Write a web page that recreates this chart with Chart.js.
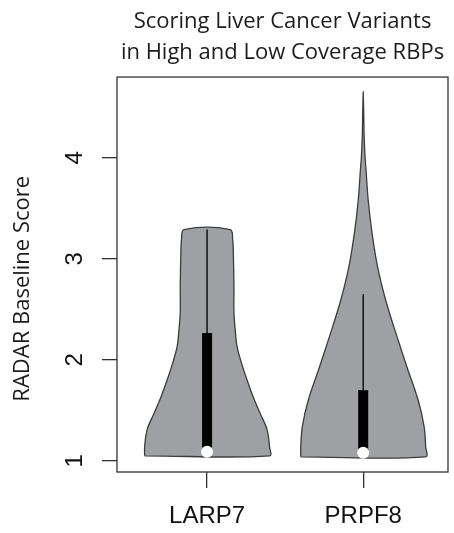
<!DOCTYPE html>
<html>
<head>
<meta charset="utf-8">
<script src="https://cdn.jsdelivr.net/npm/chart.js@4"></script>
<style>
  html, body { margin: 0; padding: 0; background: #fff; }
</style>
</head>
<body>
<canvas id="myChart" width="454" height="533"></canvas>
<script>
// data
const categories = ['LARP7', 'PRPF8'];
const yTicks = [1, 2, 3, 4];

// violin outlines: score levels and relative density (1 = widest)
const larp7Levels  = [1.05, 1.14, 1.31, 1.47, 1.63, 1.80, 1.97, 2.13, 2.30, 2.47, 2.72, 3.06, 3.19, 3.29];
const larp7Density = [1.00, 1.00, 0.96, 0.85, 0.74, 0.64, 0.55, 0.48, 0.45, 0.43, 0.43, 0.42, 0.41, 0.37];
const prpf8Levels  = [1.04, 1.14, 1.34, 1.60, 1.93, 2.27, 2.59, 2.92, 3.26, 3.58, 3.88, 4.00, 4.21, 4.45, 4.66];
const prpf8Density = [1.00, 1.00, 0.975, 0.88, 0.70, 0.52, 0.36, 0.23, 0.14, 0.08, 0.045, 0.03, 0.015, 0.008, 0.00];

// box plot parts
const boxLower   = [1.06, 1.05];
const boxUpper   = [2.265, 1.70];
const whiskerTop = [3.29, 2.65];
const medians    = [1.09, 1.08];

const halfWidth = 0.4;

function outline(center, levels, density) {
  const pts = [];
  for (let i = 0; i < levels.length; i++) pts.push({x: center - density[i] * halfWidth, y: levels[i]});
  for (let i = levels.length - 1; i >= 0; i--) pts.push({x: center + density[i] * halfWidth, y: levels[i]});
  pts.push(pts[0]);
  return pts;
}

const violins = [
  outline(1, larp7Levels, larp7Density),
  outline(2, prpf8Levels, prpf8Density)
];

const datasets = [];
violins.forEach((pts, i) => {
  datasets.push({
    data: pts, showLine: true, fill: 'shape', tension: 0.35,
    backgroundColor: '#9fa0a4', borderColor: '#3c3c3c', borderWidth: 1.3,
    pointRadius: 0, order: 4
  });
  datasets.push({
    data: [{x: i + 1, y: boxUpper[i]}, {x: i + 1, y: whiskerTop[i]}],
    showLine: true, borderColor: '#111', borderWidth: 1.5, pointRadius: 0, order: 3
  });
  datasets.push({
    data: [{x: i + 1, y: boxLower[i]}, {x: i + 1, y: boxUpper[i]}],
    showLine: true, borderColor: '#000', borderWidth: 10, borderCapStyle: 'butt',
    pointRadius: 0, order: 2
  });
  datasets.push({
    data: [{x: i + 1, y: medians[i]}],
    pointRadius: 6, backgroundColor: '#fff', borderWidth: 0, order: 1
  });
});

const frame = {
  id: 'frame',
  afterDatasetsDraw(chart) {
    const a = chart.chartArea, c = chart.ctx;
    c.save();
    c.strokeStyle = '#333';
    c.lineWidth = 1.3;
    c.strokeRect(a.left, a.top, a.right - a.left, a.bottom - a.top);
    c.restore();
  }
};

new Chart(document.getElementById('myChart'), {
  type: 'scatter',
  data: { datasets },
  plugins: [frame],
  options: {
    responsive: false,
    animation: false,
    layout: { padding: { left: 0, right: 1, top: 0, bottom: 0 } },
    plugins: {
      legend: { display: false },
      tooltip: { enabled: false },
      title: {
        display: true,
        fullSize: false,
        text: ['Scoring Liver Cancer Variants', 'in High and Low Coverage RBPs'],
        color: '#1c1c1c',
        font: { family: 'Open Sans', size: 22, weight: 'normal', lineHeight: 1.41 },
        padding: { top: 6, bottom: 9 }
      }
    },
    scales: {
      x: {
        type: 'linear',
        min: 0.423, max: 2.543,
        afterBuildTicks(s) { s.ticks = [{value: 1}, {value: 2}]; },
        afterFit(s) { s.height = 61; },
        grid: { drawOnChartArea: false, tickLength: 16, color: '#333', lineWidth: 1.3 },
        border: { display: false },
        ticks: {
          callback: v => categories[v - 1],
          color: '#111', padding: 14,
          font: { family: 'Liberation Sans', size: 24 }
        }
      },
      y: {
        min: 0.89, max: 4.80,
        afterBuildTicks(s) { s.ticks = yTicks.map(v => ({value: v})); },
        afterFit(s) { s.width = 117; },
        grid: { drawOnChartArea: false, tickLength: 15, color: '#333', lineWidth: 1.3 },
        border: { display: false },
        ticks: {
          minRotation: 90, maxRotation: 90, crossAlign: 'center',
          color: '#111', padding: 20,
          font: { family: 'Liberation Sans', size: 24 }
        },
        title: {
          display: true,
          text: 'RADAR Baseline Score\u00a0\u00a0\u00a0\u00a0\u00a0',
          color: '#1c1c1c',
          font: { family: 'Open Sans', size: 22 },
          padding: { top: 10, bottom: 0 }
        }
      }
    }
  }
});
</script>
</body>
</html>
